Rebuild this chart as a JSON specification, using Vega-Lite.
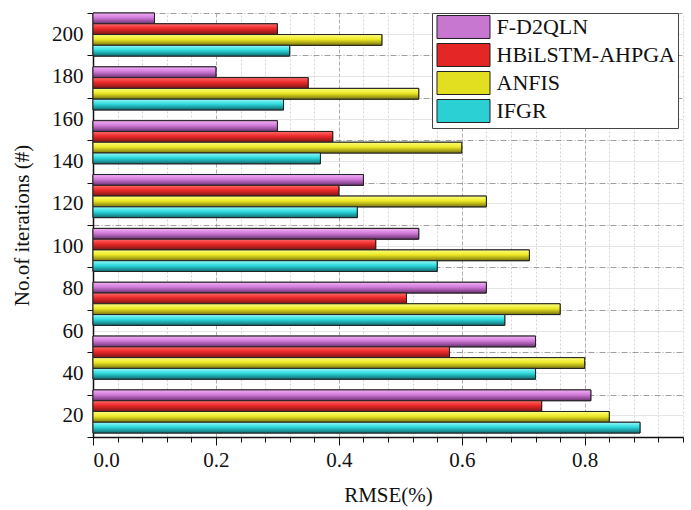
{
  "$schema": "https://vega.github.io/schema/vega-lite/v6.json",
  "width": 590,
  "height": 424,
  "autosize": {"type": "none"},
  "padding": {"left": 93, "top": 13, "right": 8, "bottom": 73},
  "config": {
    "font": "Liberation Serif",
    "view": {"stroke": null},
    "style": {"guide-label": {"font": "Liberation Serif"}, "guide-title": {"font": "Liberation Serif"}},
    "axis": {"labelFont": "Liberation Serif", "titleFont": "Liberation Serif", "labelColor": "#111", "titleColor": "#111", "titleFontWeight": "normal", "domainColor": "#111", "tickColor": "#111"},
    "legend": {"labelFont": "Liberation Serif"}
  },
  "datasets": {
    "bars": [
      {"group": "g1", "model": "F-D2QLN", "rmse": 0.10},
      {"group": "g1", "model": "HBiLSTM-AHPGA", "rmse": 0.30},
      {"group": "g1", "model": "ANFIS", "rmse": 0.47},
      {"group": "g1", "model": "IFGR", "rmse": 0.32},
      {"group": "g2", "model": "F-D2QLN", "rmse": 0.20},
      {"group": "g2", "model": "HBiLSTM-AHPGA", "rmse": 0.35},
      {"group": "g2", "model": "ANFIS", "rmse": 0.53},
      {"group": "g2", "model": "IFGR", "rmse": 0.31},
      {"group": "g3", "model": "F-D2QLN", "rmse": 0.30},
      {"group": "g3", "model": "HBiLSTM-AHPGA", "rmse": 0.39},
      {"group": "g3", "model": "ANFIS", "rmse": 0.60},
      {"group": "g3", "model": "IFGR", "rmse": 0.37},
      {"group": "g4", "model": "F-D2QLN", "rmse": 0.44},
      {"group": "g4", "model": "HBiLSTM-AHPGA", "rmse": 0.40},
      {"group": "g4", "model": "ANFIS", "rmse": 0.64},
      {"group": "g4", "model": "IFGR", "rmse": 0.43},
      {"group": "g5", "model": "F-D2QLN", "rmse": 0.53},
      {"group": "g5", "model": "HBiLSTM-AHPGA", "rmse": 0.46},
      {"group": "g5", "model": "ANFIS", "rmse": 0.71},
      {"group": "g5", "model": "IFGR", "rmse": 0.56},
      {"group": "g6", "model": "F-D2QLN", "rmse": 0.64},
      {"group": "g6", "model": "HBiLSTM-AHPGA", "rmse": 0.51},
      {"group": "g6", "model": "ANFIS", "rmse": 0.76},
      {"group": "g6", "model": "IFGR", "rmse": 0.67},
      {"group": "g7", "model": "F-D2QLN", "rmse": 0.72},
      {"group": "g7", "model": "HBiLSTM-AHPGA", "rmse": 0.58},
      {"group": "g7", "model": "ANFIS", "rmse": 0.80},
      {"group": "g7", "model": "IFGR", "rmse": 0.72},
      {"group": "g8", "model": "F-D2QLN", "rmse": 0.81},
      {"group": "g8", "model": "HBiLSTM-AHPGA", "rmse": 0.73},
      {"group": "g8", "model": "ANFIS", "rmse": 0.84},
      {"group": "g8", "model": "IFGR", "rmse": 0.89}
    ],
    "iters": [
      {"it": "200"}, {"it": "180"}, {"it": "160"}, {"it": "140"}, {"it": "120"},
      {"it": "100"}, {"it": "80"}, {"it": "60"}, {"it": "40"}, {"it": "20"}
    ],
    "minor": [{"v": 0}]
  },
  "layer": [
    {
      "data": {"name": "iters"},
      "mark": {"type": "tick", "opacity": 0},
      "encoding": {
        "y": {
          "field": "it", "type": "ordinal",
          "scale": {"domain": ["200","180","160","140","120","100","80","60","40","20"], "paddingInner": 0, "paddingOuter": 0},
          "axis": {
            "orient": "left", "title": null, "labels": false, "ticks": false, "domain": false,
            "grid": true, "gridColor": "#dedede", "gridWidth": 0.8, "zindex": 0
          }
        }
      }
    },
    {
      "data": {"name": "iters"},
      "mark": {"type": "tick", "opacity": 0},
      "encoding": {
        "y": {
          "field": "it", "type": "ordinal",
          "scale": {"domain": ["200","180","160","140","120","100","80","60","40","20"], "paddingInner": 0, "paddingOuter": 0},
          "axis": {
            "orient": "left", "title": "No.of iterations (#)", "tickBand": "extent",
            "labelFont": "Liberation Serif", "titleFont": "Liberation Serif",
            "grid": true, "gridColor": "#888", "gridDash": [6, 2, 1, 2], "gridWidth": 0.8,
            "tickSize": 6, "labelFontSize": 21, "labelPadding": 4, "titleFontSize": 21, "titlePadding": 19,
            "domainWidth": 1.5, "labelAngle": 0, "zindex": 0
          }
        }
      }
    },
    {
      "data": {"name": "minor"},
      "mark": {"type": "rule", "opacity": 0},
      "encoding": {
        "x": {
          "field": "v", "type": "quantitative",
          "scale": {"domain": [0, 0.96], "nice": false},
          "axis": {
            "orient": "bottom", "title": null, "labels": false, "domain": false,
            "values": [0.04,0.08,0.12,0.16,0.24,0.28,0.32,0.36,0.44,0.48,0.52,0.56,0.64,0.68,0.72,0.76,0.84,0.88,0.92,0.96],
            "tickSize": 5, "grid": true, "gridColor": "#c8c8c8", "gridDash": [2, 2], "gridWidth": 0.8, "zindex": 0
          }
        }
      }
    },
    {
      "data": {"name": "bars"},
      "encoding": {
        "y": {
          "field": "group", "type": "nominal",
          "scale": {"paddingInner": 0.2, "paddingOuter": 0.037, "align": 0},
          "axis": null
        },
        "yOffset": {
          "field": "model", "type": "nominal",
          "scale": {"domain": ["F-D2QLN", "HBiLSTM-AHPGA", "ANFIS", "IFGR"], "paddingInner": 0, "paddingOuter": 0}
        },
        "x": {
          "field": "rmse", "type": "quantitative",
          "scale": {"domain": [0, 0.96], "nice": false},
          "axis": {
            "orient": "bottom", "title": "RMSE(%)", "values": [0, 0.2, 0.4, 0.6, 0.8], "format": ".1f",
            "labelFont": "Liberation Serif", "titleFont": "Liberation Serif",
            "grid": true, "gridColor": "#999", "gridDash": [4, 2], "gridWidth": 0.8,
            "tickSize": 8, "labelFontSize": 21, "labelPadding": 4, "titleFontSize": 21, "titlePadding": 14,
            "domainWidth": 1.5, "zindex": 0
          }
        }
      },
      "layer": [
        {
          "mark": {"type": "bar", "stroke": "#222", "strokeWidth": 1},
          "encoding": {
            "color": {
              "field": "model", "type": "nominal",
              "scale": {
                "domain": ["F-D2QLN", "HBiLSTM-AHPGA", "ANFIS", "IFGR"],
                "range": ["#c877d0", "#e42626", "#e2de20", "#2ad0d4"]
              },
              "legend": {
                "orient": "none", "legendX": 339, "legendY": 0, "title": null,
                "strokeColor": "#444", "fillColor": "#fff", "padding": 3,
                "symbolType": "M-2.524,-1.095H2.524V1.095H-2.524Z", "symbolSize": 441,
                "symbolOffset": 17.5, "labelOffset": 22, "rowPadding": 0,
                "symbolStrokeColor": "#222", "symbolStrokeWidth": 1, "symbolOpacity": 1,
                "labelFont": "Liberation Serif", "labelFontSize": 22, "labelColor": "#111", "labelLimit": 300
              }
            }
          }
        },
        {
          "transform": [{"filter": "datum.model === 'F-D2QLN'"}],
          "mark": {"type": "bar", "stroke": "#222", "strokeWidth": 1},
          "encoding": {"fill": {"value": {"gradient": "linear", "x1": 0, "y1": 0, "x2": 0, "y2": 1, "stops": [{"offset": 0, "color": "#f4b0f8"}, {"offset": 0.45, "color": "#d07ad8"}, {"offset": 1, "color": "#6a3070"}]}}}
        },
        {
          "transform": [{"filter": "datum.model === 'HBiLSTM-AHPGA'"}],
          "mark": {"type": "bar", "stroke": "#222", "strokeWidth": 1},
          "encoding": {"fill": {"value": {"gradient": "linear", "x1": 0, "y1": 0, "x2": 0, "y2": 1, "stops": [{"offset": 0, "color": "#ff6a6a"}, {"offset": 0.45, "color": "#ec2828"}, {"offset": 1, "color": "#7a1616"}]}}}
        },
        {
          "transform": [{"filter": "datum.model === 'ANFIS'"}],
          "mark": {"type": "bar", "stroke": "#222", "strokeWidth": 1},
          "encoding": {"fill": {"value": {"gradient": "linear", "x1": 0, "y1": 0, "x2": 0, "y2": 1, "stops": [{"offset": 0, "color": "#ffff80"}, {"offset": 0.45, "color": "#ece824"}, {"offset": 1, "color": "#7a7410"}]}}}
        },
        {
          "transform": [{"filter": "datum.model === 'IFGR'"}],
          "mark": {"type": "bar", "stroke": "#222", "strokeWidth": 1},
          "encoding": {"fill": {"value": {"gradient": "linear", "x1": 0, "y1": 0, "x2": 0, "y2": 1, "stops": [{"offset": 0, "color": "#98f8f8"}, {"offset": 0.45, "color": "#2cdade"}, {"offset": 1, "color": "#106a70"}]}}}
        }
      ]
    }
  ],
  "resolve": {"scale": {"y": "independent"}, "axis": {"x": "independent", "y": "independent"}}
}
